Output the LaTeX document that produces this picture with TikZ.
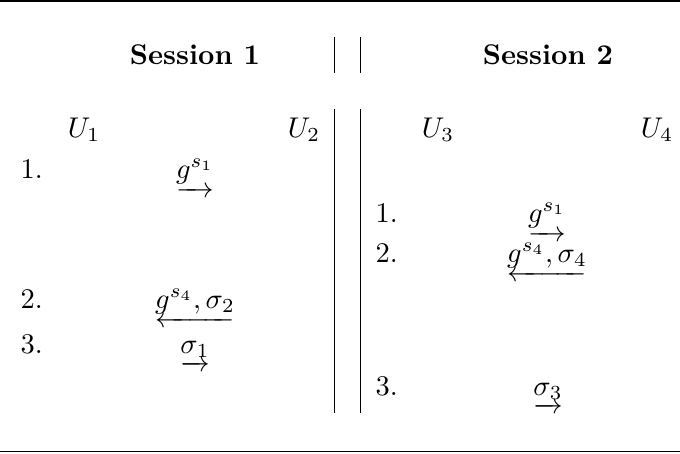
\documentclass[tikz,border=0pt]{standalone}
\usepackage{amsmath}
\usetikzlibrary{calc}

\begin{document}
\begin{tikzpicture}[x=.3509pt,y=-.3509pt,every node/.style={inner sep=0pt},num/.style={anchor=base west},msg/.style={anchor=base}]
\useasboundingbox(0,0)rectangle(680,453);
\draw(0,1)--(680,1);\draw(0,451.5)--(680,451.5);
\node(s1)at(195,55){\bfseries Session 1};\node(s2)at(548,55){\bfseries Session 2};
\draw(334.5,37)--(334.5,73);\draw(360.7,37)--(360.7,73);
\draw(334.5,109)--(334.5,413);\draw(360.7,109)--(360.7,413);
\node[msg](u1)at(84,137){$U_1$};\node[msg](u2)at(304,137){$U_2$};
\node[msg](u3)at(438,137){$U_3$};\node[msg](u4)at(657,137){$U_4$};
% session 1
\node[num](n11)at(20,178){1.};\node[msg](m11)at(195,178){$\underrightarrow{g^{s_1}}$};
\node[num](n12)at(20,308){2.};\node[msg](m12)at(195,308){$\underleftarrow{g^{s_4},\sigma_2}$};
\node[num](n13)at(20,353){3.};\node[msg](m13)at(195,353){$\underrightarrow{\sigma_1}$};
% session 2
\node[num](n21)at(375,222){1.};\node[msg](m21)at(547,222){$\underrightarrow{g^{s_1}}$};
\node[num](n22)at(375,262){2.};\node[msg](m22)at(547,262){$\underleftarrow{g^{s_4},\sigma_4}$};
\node[num](n23)at(375,395){3.};\node[msg](m23)at(548,395){$\underrightarrow{\sigma_3}$};
\end{tikzpicture}
\end{document}
